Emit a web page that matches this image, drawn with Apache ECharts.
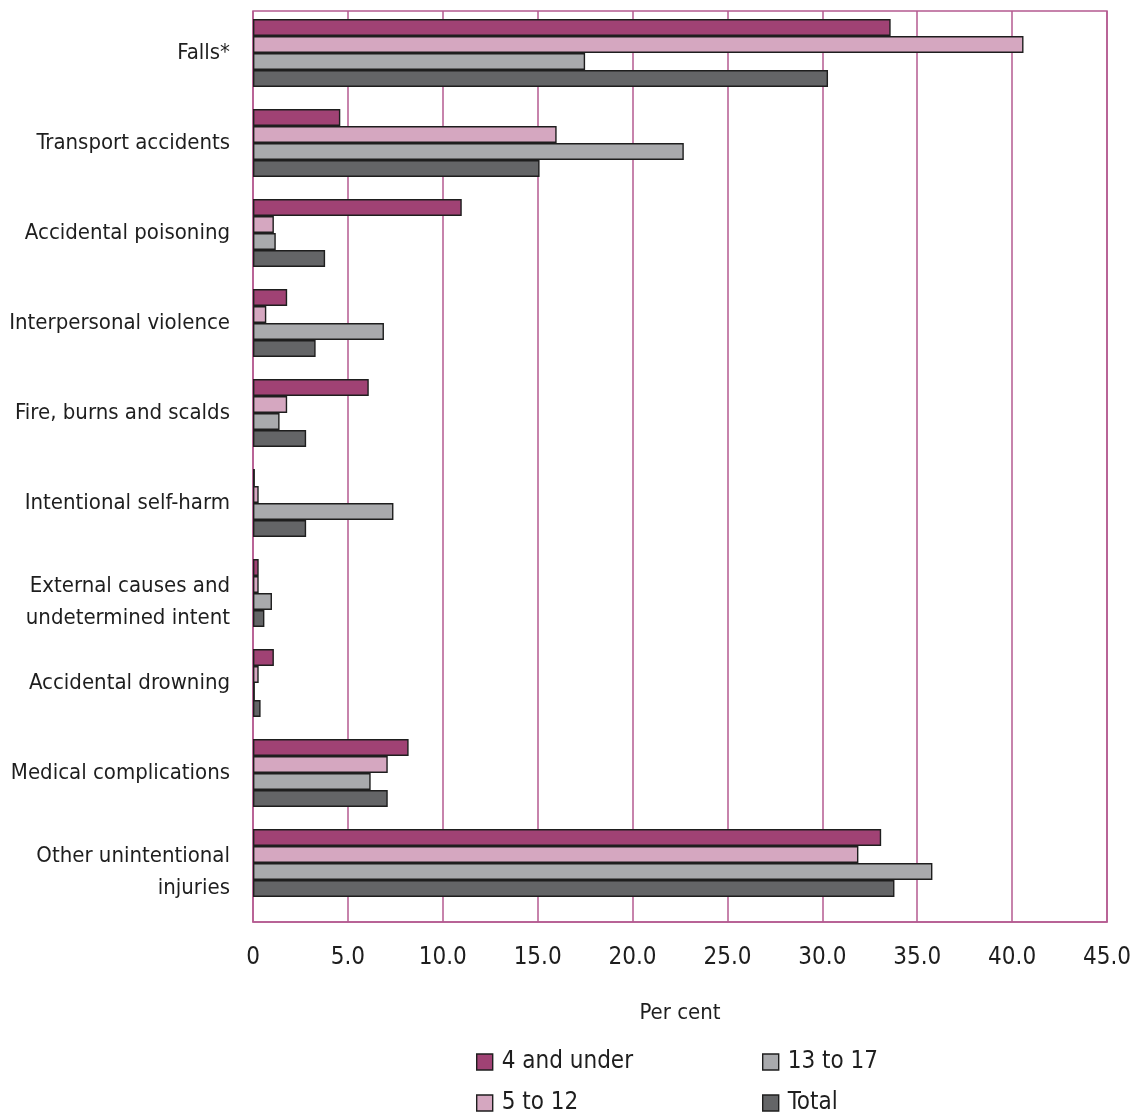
<!DOCTYPE html>
<html>
<head>
<meta charset="utf-8">
<script src="https://cdn.jsdelivr.net/npm/echarts@6/dist/echarts.min.js"></script>
<style>
  html, body { margin: 0; padding: 0; background: #ffffff; }
  #chart { width: 1139px; height: 1115px; }
</style>
</head>
<body>
<div id="chart"></div>
<script>
// Injury causes, per cent of hospitalisations by age group
const categories = [
  'Falls*',
  'Transport accidents',
  'Accidental poisoning',
  'Interpersonal violence',
  'Fire, burns and scalds',
  'Intentional self-harm',
  'External causes and\nundetermined intent',
  'Accidental drowning',
  'Medical complications',
  'Other unintentional\ninjuries'
];
const seriesNames = ['4 and under', '5 to 12', '13 to 17', 'Total'];
const age4AndUnder = [33.6, 4.6, 11.0, 1.8, 6.1, 0.1, 0.3, 1.1, 8.2, 33.1];
const age5To12     = [40.6, 16.0, 1.1, 0.7, 1.8, 0.3, 0.3, 0.3, 7.1, 31.9];
const age13To17    = [17.5, 22.7, 1.2, 6.9, 1.4, 7.4, 1.0, 0.1, 6.2, 35.8];
const ageTotal     = [30.3, 15.1, 3.8, 3.3, 2.8, 2.8, 0.6, 0.4, 7.1, 33.8];
const tickLabels = ['0', '5.0', '10.0', '15.0', '20.0', '25.0', '30.0', '35.0', '40.0', '45.0'];

const seriesValues = [age4AndUnder, age5To12, age13To17, ageTotal];
const seriesColors = ['#a04274', '#d5a7c0', '#a9aaad', '#646567'];

const FONT = "'Liberation Sans Narrow', 'DejaVu Sans Condensed', 'Roboto Condensed', 'Liberation Sans', Arial, sans-serif";
const TEXT = '#1e1e1e';
const GRIDLINE = '#b45a90';
const EDGE = '#1e1e1e';

// two-line category labels sit a little lower than the bar group centre
function categoryLabel(value) {
  if (value.indexOf('\n') < 0) return value;
  return '{gap| }\n' + value.split('\n').map((line) => '{ln|' + line + '}').join('\n');
}

// legend placement: two columns, two rows
const legendSlots = [
  { left: 476, top: 1050 },
  { left: 476, top: 1091 },
  { left: 762, top: 1050 },
  { left: 762, top: 1091 }
];

const chart = echarts.init(document.getElementById('chart'), null, { renderer: 'canvas' });

const option = {
  backgroundColor: '#ffffff',
  animation: false,
  textStyle: { fontFamily: FONT, color: TEXT },
  grid: [
    // bars
    { left: 253, top: 8, width: 854, height: 900, show: false,
      containLabel: false, outerBoundsMode: 'none' },
    // framed value scale with vertical gridlines
    { left: 253, top: 11, width: 854, height: 911, show: true,
      borderColor: GRIDLINE, borderWidth: 1.5, backgroundColor: 'transparent',
      containLabel: false, outerBoundsMode: 'none' }
  ],
  legend: seriesNames.map((name, i) => ({
    data: [name],
    orient: 'horizontal',
    left: legendSlots[i].left, top: legendSlots[i].top,
    padding: 0,
    itemWidth: 16, itemHeight: 16, itemGap: 0, icon: 'rect',
    textStyle: { fontFamily: FONT, fontSize: 24, color: TEXT, padding: [0, 0, 0, 4] },
    itemStyle: { borderColor: EDGE, borderWidth: 1.4 }
  })),
  xAxis: [
    { gridIndex: 0, type: 'value', min: 0, max: 45, interval: 5, show: false },
    {
      gridIndex: 1, type: 'value', min: 0, max: 45, interval: 5,
      name: 'Per cent', nameLocation: 'middle', nameGap: 80,
      nameTextStyle: { fontFamily: FONT, fontSize: 22, color: TEXT },
      axisLine: { show: true, lineStyle: { color: GRIDLINE, width: 1.5 } },
      axisTick: { show: false },
      splitLine: { show: true, lineStyle: { color: GRIDLINE, width: 1.5 } },
      axisLabel: {
        margin: 24, fontFamily: FONT, fontSize: 24, color: TEXT,
        formatter: (v) => tickLabels[Math.round(v / 5)]
      }
    }
  ],
  yAxis: [
    {
      gridIndex: 0, type: 'category', data: categories, inverse: true,
      axisLine: { show: false }, axisTick: { show: false }, splitLine: { show: false },
      axisLabel: {
        margin: 23, fontFamily: FONT, fontSize: 22, color: TEXT, lineHeight: 32, align: 'right',
        formatter: categoryLabel,
        rich: {
          gap: { fontSize: 1, lineHeight: 18 },
          ln: { fontFamily: FONT, fontSize: 22, color: TEXT, lineHeight: 32, align: 'right' }
        }
      }
    },
    { gridIndex: 1, type: 'value', show: false, min: 0, max: 1 }
  ],
  series: seriesNames.map((name, i) => ({
    name: name,
    type: 'bar',
    xAxisIndex: 0,
    yAxisIndex: 0,
    data: seriesValues[i],
    barWidth: 17,
    barGap: '0%',
    itemStyle: { color: seriesColors[i], borderColor: EDGE, borderWidth: 1.4 }
  }))
};

chart.setOption(option);
</script>
</body>
</html>
